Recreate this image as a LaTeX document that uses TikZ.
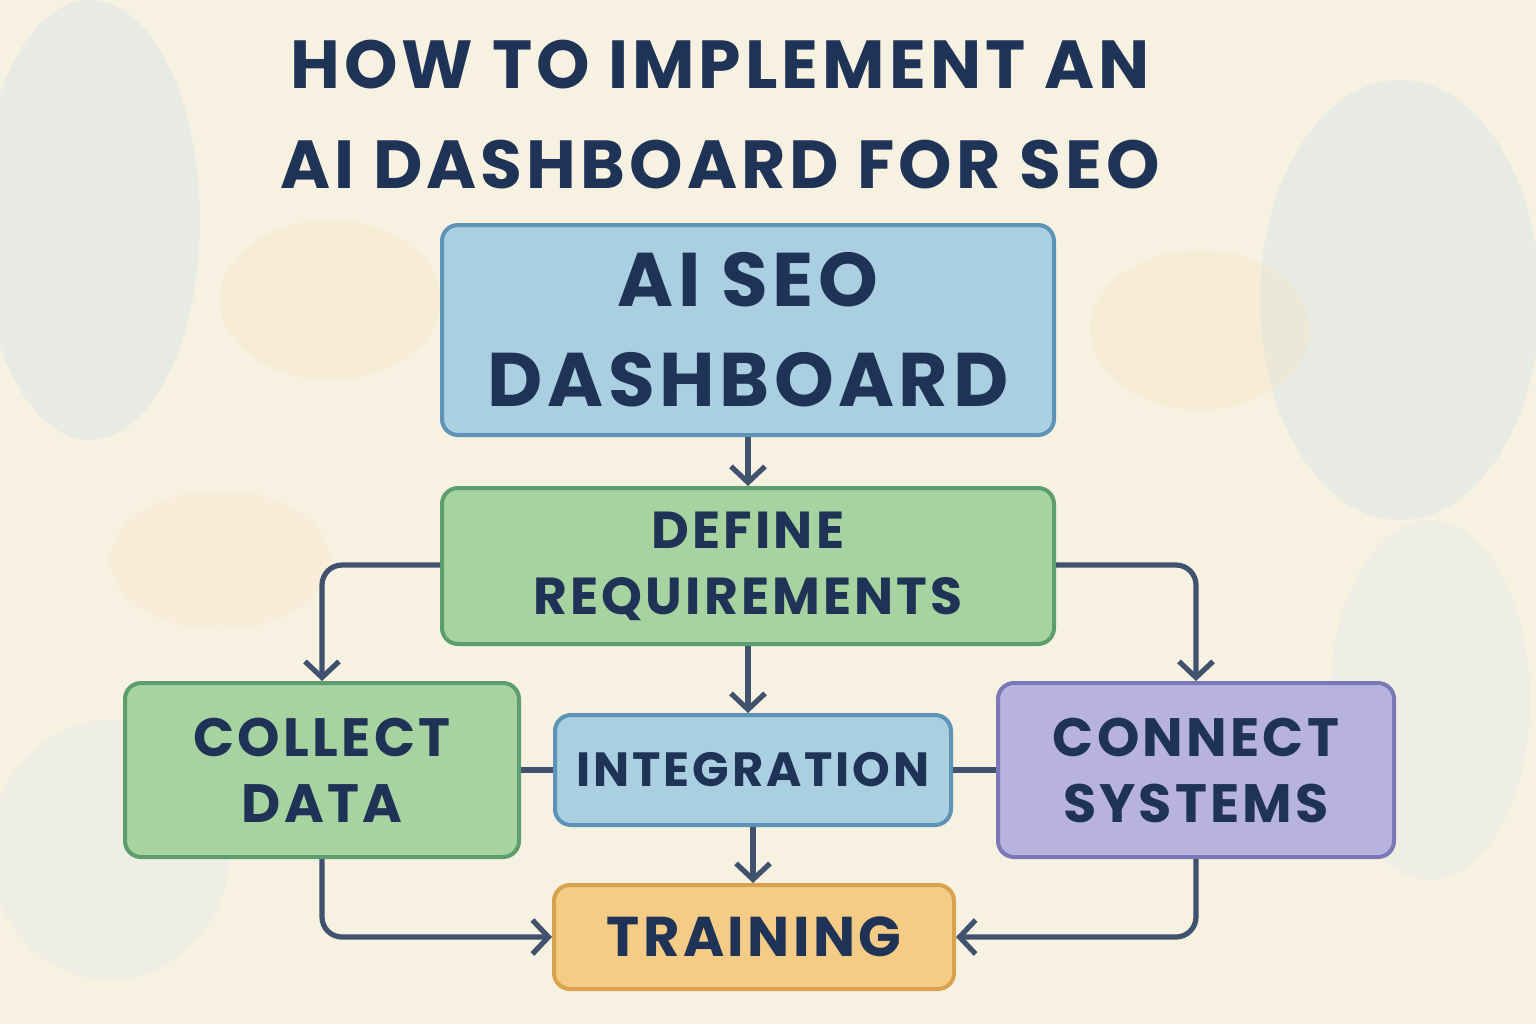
\documentclass[tikz,border=0pt]{standalone}
\usepackage{fontspec}
\usetikzlibrary{arrows.meta}
\setmainfont[LetterSpace=6]{Poppins}
\definecolor{ink}{HTML}{1E3355}
\definecolor{bg}{HTML}{F7F1E1}
\definecolor{blu}{HTML}{A9CFE0}
\definecolor{blue2}{HTML}{5E93B8}
\definecolor{grn}{HTML}{A6D3A0}
\definecolor{grn2}{HTML}{5E9E6E}
\definecolor{pur}{HTML}{B7B3DE}
\definecolor{pur2}{HTML}{7C78B8}
\definecolor{org}{HTML}{F5CC85}
\definecolor{org2}{HTML}{D9A24E}
\begin{document}
\begin{tikzpicture}[x=0.5pt,y=-0.5pt,
  box/.style={rounded corners=8pt,line width=2pt,text=ink,align=center,inner sep=0pt},
  conn/.style={draw=ink!85,line width=2.6pt,rounded corners=10pt},
  arr/.style={conn,-{Straight Barb[length=8pt,width=17pt,line width=2.6pt]}}]
\useasboundingbox (0,0) rectangle (1536,1024);
\fill[bg] (0,0) rectangle (1536,1024);
\fill[blu!60,opacity=0.35] (90,220) ellipse (110 and 220);
\fill[blu!60,opacity=0.35] (1400,300) ellipse (140 and 220);
\fill[org!60,opacity=0.25] (330,300) ellipse (110 and 80);
\fill[org!60,opacity=0.25] (1200,330) ellipse (110 and 80);
\fill[blu!50,opacity=0.25] (110,850) ellipse (120 and 130);
\fill[blu!50,opacity=0.25] (1430,700) ellipse (100 and 180);
\fill[org!50,opacity=0.25] (220,560) ellipse (110 and 70);
\node[text=ink,font=\fontsize{34}{50}\selectfont\bfseries,align=center] (title) at (720,115) {HOW TO IMPLEMENT AN\\AI DASHBOARD FOR SEO};
\node[box,draw=blue2,fill=blu,minimum width=306pt,minimum height=105pt,font=\fontsize{38}{50}\selectfont\bfseries] (dash) at (748,330) {AI SEO\\DASHBOARD};
\node[box,draw=grn2,fill=grn,minimum width=306pt,minimum height=78pt,font=\fontsize{26}{33}\selectfont\bfseries] (def) at (748,566) {DEFINE\\REQUIREMENTS};
\node[box,draw=grn2,fill=grn,minimum width=197pt,minimum height=87pt,font=\fontsize{27}{33}\selectfont\bfseries] (col) at (322,770) {COLLECT\\DATA};
\node[box,draw=blue2,fill=blu,minimum width=198pt,minimum height=55pt,font=\fontsize{24}{32}\selectfont\bfseries] (int) at (753,770) {INTEGRATION};
\node[box,draw=pur2,fill=pur,minimum width=198pt,minimum height=87pt,font=\fontsize{27}{33}\selectfont\bfseries] (con) at (1196,770) {CONNECT\\SYSTEMS};
\node[box,draw=org2,fill=org,minimum width=200pt,minimum height=52pt,font=\fontsize{28}{34}\selectfont\bfseries] (tr) at (754,937) {TRAINING};
\draw[arr] (dash.south) -- (def.north);
\draw[arr] (def.west|-0,565) -| (col.north);
\draw[arr] (def.east|-0,565) -| (con.north);
\draw[arr] (def.south) -- (int.north-|def.south);
\draw[conn] (col.east) -- (int.west);
\draw[conn] (int.east) -- (con.west);
\draw[arr] (int.south) -- (tr.north-|int.south);
\draw[arr] (col.south) |- (tr.west);
\draw[arr] (con.south) |- (tr.east);
\end{tikzpicture}
\end{document}
